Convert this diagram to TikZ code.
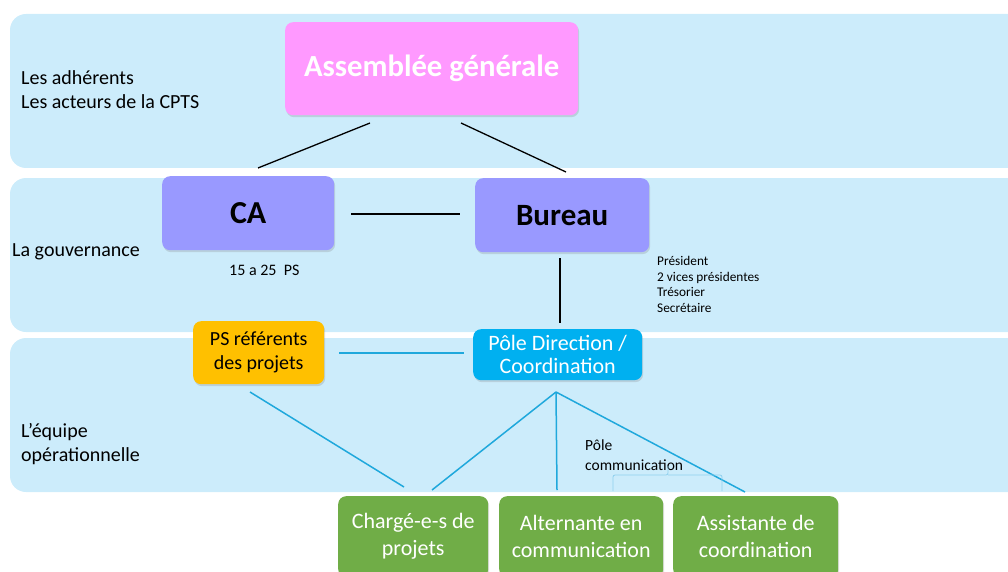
\documentclass[tikz,border=0pt]{standalone}
\usepackage{fontspec}
\setmainfont{Carlito}
\usetikzlibrary{shadows}
\definecolor{band}{HTML}{CCECFB}
\definecolor{agpink}{HTML}{FF99FF}
\definecolor{purp}{HTML}{9999FF}
\definecolor{orng}{HTML}{FFC000}
\definecolor{pblue}{HTML}{00B0F0}
\definecolor{grn}{HTML}{70AD47}
\definecolor{lblue}{HTML}{1FA8DC}
\definecolor{brc}{HTML}{8FD0EE}
\begin{document}
\begin{tikzpicture}[x=1pt,y=-1pt,
  bandbox/.style={fill=band,draw=none,rounded corners=16pt},
  boxbase/.style={rounded corners=8pt,draw=none,align=center,anchor=north west,inner sep=0pt,
     drop shadow={shadow xshift=1pt,shadow yshift=-2pt,opacity=0.25}},
  lab/.style={anchor=west,inner sep=0pt,align=left,font=\fontsize{20}{24.5}\selectfont},
  small/.style={anchor=west,inner sep=0pt,align=left,font=\fontsize{13.3}{15.7}\selectfont},
  greenbox/.style={boxbase,fill=grn,minimum height=81pt,text=white,font=\fontsize{22}{27}\selectfont},
  blk/.style={draw=black,line width=1.3pt},
  blu/.style={draw=lblue,line width=1.5pt}]
\useasboundingbox (0,0) rectangle (1008,572);
\fill[bandbox] (10,14) rectangle (1030,168);
\fill[bandbox] (10,178) rectangle (1030,332);
\fill[bandbox] (10,338) rectangle (1030,492);

\node[boxbase,fill=agpink,minimum width=293pt,minimum height=93pt,text=white,
  font=\fontsize{30.7}{34}\selectfont\bfseries] (ag) at (285,22) {Assemblée générale};
\node[boxbase,fill=purp,minimum width=172pt,minimum height=74pt,
  font=\fontsize{32}{36}\selectfont\bfseries] (ca) at (162,176) {CA};
\node[boxbase,fill=purp,minimum width=174pt,minimum height=74pt,
  font=\fontsize{31}{36}\selectfont\bfseries] (bu) at (475,178) {Bureau};
\node[boxbase,fill=orng,minimum width=131pt,minimum height=63pt,
  font=\fontsize{20}{24}\selectfont] (ps) at (193,321) {PS référents\\des projets};
\node[boxbase,fill=pblue,minimum width=169pt,minimum height=51pt,text=white,
  font=\fontsize{22}{23}\selectfont] (pd) at (473,329) {Pôle Direction /\\Coordination};
\node[greenbox,minimum width=150pt] (ch) at (338,496) {Chargé-e-s de\\projets};
\node[greenbox,minimum width=164pt] (al) at (499,496) {Alternante en\\communication};
\node[greenbox,minimum width=165pt] (as) at (673,496) {Assistante de\\coordination};

\node[lab] (l1) at (21,89.5) {Les adhérents\\Les acteurs de la CPTS};
\node[lab] (l2) at (12,252) {La gouvernance};
\node[lab] (l3) at (21,444) {L’équipe\\opérationnelle};
\node[small,font=\fontsize{16}{18}\selectfont] (nb) at (229,270) {15 a 25\ \ PS};
\node[small] (bm) at (657,284.5) {Président\\2 vices présidentes\\Trésorier\\Secrétaire};
\node[small,font=\fontsize{15.5}{20}\selectfont] (pc) at (585,455) {Pôle\\communication};

\coordinate (agl) at (370,123); \coordinate (agr) at (461,123);
\coordinate (cat) at (258,168); \coordinate (but) at (566,172);
\coordinate (car) at (351,214); \coordinate (bul) at (460,214);
\coordinate (bub) at (560,258); \coordinate (pdt) at (560,323);
\coordinate (psr) at (339,353); \coordinate (pdl) at (464,353);
\coordinate (psb) at (250,392); \coordinate (chl) at (404,487);
\coordinate (apex) at (556,392);
\coordinate (chr) at (432,490); \coordinate (alt) at (557,490); \coordinate (ast) at (745,492);

\draw[blk] (agl) -- (cat);
\draw[blk] (agr) -- (but);
\draw[blk] (car) -- (bul);
\draw[blk,line width=1.1pt] (bub) -- (pdt);
\draw[blu] (psr) -- (pdl);
\draw[blu] (psb) -- (chl);
\draw[blu] (apex) -- (chr);
\draw[blu] (apex) -- (alt);
\draw[blu] (apex) -- (ast);

\draw[brc,line width=0.8pt,rounded corners=2pt] (613,491) -- (613,475) -- (668,475) -- (668,466)
  (668,475) -- (722,475) -- (722,491);
\end{tikzpicture}
\end{document}
